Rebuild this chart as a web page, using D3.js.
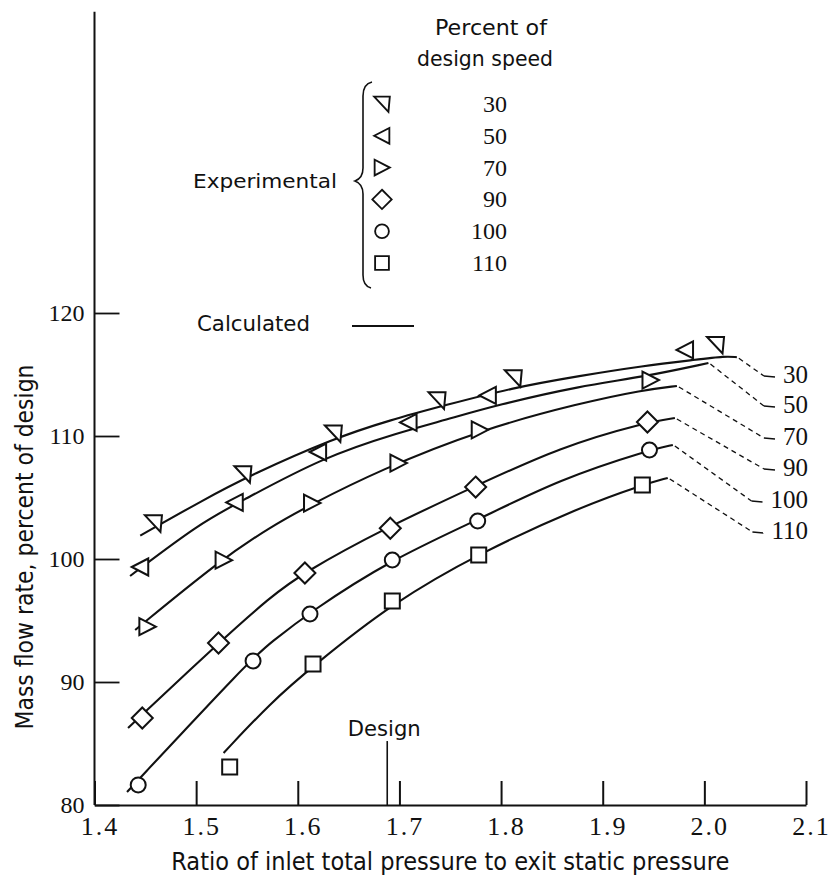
<!DOCTYPE html>
<html>
<head>
<meta charset="utf-8">
<script src="https://cdn.jsdelivr.net/npm/d3@7"></script>
<style>
  html, body { margin: 0; padding: 0; background: #fff; }
  svg { display: block; }
</style>
</head>
<body>
<svg id="chart" width="830" height="879"></svg>
<script>
// ---- Data -------------------------------------------------------------
const speeds = ["30", "50", "70", "90", "100", "110"];
const xTicks = [1.4, 1.5, 1.6, 1.7, 1.8, 1.9, 2.0, 2.1];
const yTicks = [80, 90, 100, 110, 120];

// Experimental points: [pressure ratio, mass flow rate (% of design)]
const exp30  = [[1.458, 102.9], [1.546, 106.9], [1.635, 110.2], [1.737, 112.9], [1.812, 114.7], [2.011, 117.4]];
const exp50  = [[1.445, 99.35], [1.538, 104.6], [1.620, 108.7], [1.709, 111.1], [1.787, 113.3], [1.981, 117.0]];
const exp70  = [[1.452, 94.5],  [1.527, 99.9],  [1.614, 104.55], [1.699, 107.8], [1.779, 110.5], [1.947, 114.55]];
const exp90  = [[1.447, 87.07], [1.522, 93.17], [1.607, 98.86], [1.691, 102.5], [1.775, 105.85], [1.944, 111.14]];
const exp100 = [[1.443, 81.63], [1.556, 91.71], [1.612, 95.53], [1.693, 99.92], [1.777, 103.09], [1.946, 108.86]];
const exp110 = [[1.533, 83.09], [1.615, 91.46], [1.693, 96.59], [1.778, 100.33], [1.939, 106.02]];

// Calculated characteristics
const calc30  = [[1.445, 101.9], [1.507, 104.8], [1.553, 106.8], [1.635, 109.8], [1.691, 111.3], [1.745, 112.5],
                 [1.810, 113.9], [1.878, 114.9], [1.940, 115.7], [1.991, 116.2], [2.021, 116.5], [2.032, 116.4]];
const calc50  = [[1.435, 98.62], [1.504, 102.93], [1.543, 104.63], [1.625, 108.29], [1.701, 110.32], [1.745, 111.3],
                 [1.796, 112.52], [1.878, 114.07], [1.940, 114.8], [2.004, 115.93]];
const calc70  = [[1.440, 94.23], [1.524, 99.92], [1.573, 102.6], [1.612, 104.39], [1.681, 107.24], [1.779, 110.49],
                 [1.878, 112.68], [1.940, 113.74], [1.973, 114.07]];
const calc90  = [[1.433, 86.26], [1.522, 93.17], [1.573, 96.91], [1.605, 98.86], [1.686, 102.52], [1.773, 105.85],
                 [1.858, 109.11], [1.944, 111.14], [1.971, 111.46]];
const calc100 = [[1.432, 81.06], [1.553, 91.79], [1.573, 93.17], [1.612, 95.69], [1.691, 99.92], [1.777, 103.17],
                 [1.858, 106.5], [1.946, 108.86], [1.969, 109.27]];
const calc110 = [[1.527, 84.23], [1.573, 88.29], [1.615, 91.3], [1.693, 96.42], [1.779, 100.49], [1.878, 104.23],
                 [1.939, 106.02], [1.964, 106.59]];

// Right-hand speed labels (flow-rate level of each label)
const labelLevels = [115.04, 112.6, 110.0, 107.48, 104.88, 102.36];

const designRatio = 1.688;
const designMarkTop = 85.2;
const yAxisTop = 144.5;

// ---- Setup ------------------------------------------------------------
const svg = d3.select("#chart");
svg.append("rect").attr("width", 830).attr("height", 879).attr("fill", "#fff");

const x = d3.scaleLinear().domain([1.4, 2.1]).range([94.5, 806]);
const y = d3.scaleLinear().domain([80, 120]).range([805, 313]);

const INK = "#111";
const SERIF = "'Liberation Serif','DejaVu Serif',serif";
const SANS = "'DejaVu Sans','Liberation Sans',sans-serif";
const NARROW = "'Liberation Sans Narrow','DejaVu Sans Condensed','DejaVu Sans',sans-serif";

function fitText(g, str, px, py, size, family, len, anchor) {
  return g.append("text")
    .attr("x", px).attr("y", py)
    .attr("font-family", family).attr("font-size", size)
    .attr("fill", INK)
    .attr("text-anchor", anchor || "start")
    .attr("textLength", len)
    .attr("lengthAdjust", "spacingAndGlyphs")
    .text(str);
}

// ---- Axes -------------------------------------------------------------
const gx = svg.append("g").attr("transform", `translate(0,${y(80)})`)
  .call(d3.axisBottom(x).tickValues(xTicks).tickSize(-24).tickSizeOuter(0).tickPadding(12)
        .tickFormat(d3.format(".1f")));
gx.select(".domain").attr("stroke", INK).attr("stroke-width", 2);
gx.selectAll(".tick line").attr("stroke", INK).attr("stroke-width", 2);
gx.selectAll(".tick text").attr("font-family", SERIF).attr("font-size", 26)
  .attr("letter-spacing", 2).attr("dx", 5).attr("fill", INK);

const gy = svg.append("g").attr("transform", `translate(${x(1.4)},0)`)
  .call(d3.axisLeft(y).tickValues(yTicks).tickSize(-25).tickSizeOuter(0).tickPadding(10));
gy.select(".domain").remove();
gy.selectAll(".tick line").attr("stroke", INK).attr("stroke-width", 1.8);
gy.selectAll(".tick text").attr("font-family", SERIF).attr("font-size", 24).attr("fill", INK);
gy.append("line")
  .attr("x1", 0).attr("x2", 0)
  .attr("y1", y(80)).attr("y2", y(yAxisTop))
  .attr("stroke", INK).attr("stroke-width", 2);

// Axis titles
fitText(svg, "Ratio of inlet total pressure to exit static pressure",
        (x(1.4) + x(2.1)) / 2, 870, 24, NARROW, 558, "middle");
fitText(svg.append("g").attr("transform", "translate(33,547) rotate(-90)"),
        "Mass flow rate, percent of design", 0, 0, 24, NARROW, 365, "middle");

// Design-point marker
svg.append("line")
  .attr("x1", x(designRatio)).attr("x2", x(designRatio))
  .attr("y1", y(80)).attr("y2", y(designMarkTop))
  .attr("stroke", INK).attr("stroke-width", 1.6);
fitText(svg, "Design", x(designRatio) - 3, y(designMarkTop) - 5, 22, SANS, 73, "middle");

// ---- Symbols ------------------------------------------------------------
const shapes = {
  "30":  "M-8.5,-8L8.5,-8L7,8.5Z",
  "50":  "M-8.5,0L8,-8.5L8,8.5Z",
  "70":  "M-8,-8.5L-8,8.5L8.5,0Z",
  "90":  "M0,-10.5L10.5,0L0,10.5L-10.5,0Z",
  "100": "M7.5,0A7.5,7.5 0 1,1 -7.5,0A7.5,7.5 0 1,1 7.5,0Z",
  "110": "M-7.5,-7.5L7.5,-7.5L7.5,7.5L-7.5,7.5Z"
};
function symbol(g, key, cx, cy, k) {
  g.append("path")
    .attr("d", shapes[key])
    .attr("transform", `translate(${cx},${cy}) scale(${k || 1})`)
    .attr("fill", "#fff").attr("stroke", INK).attr("stroke-width", 2)
    .attr("stroke-linejoin", "miter");
}

// ---- Curves, leaders and points --------------------------------------
const calcSets = [calc30, calc50, calc70, calc90, calc100, calc110];
const expSets = [exp30, exp50, exp70, exp90, exp100, exp110];

const line = d3.line()
  .x(d => x(d[0])).y(d => y(d[1]))
  .curve(d3.curveBasis);

const gCurves = svg.append("g");
const gLeaders = svg.append("g");
const gLabels = svg.append("g");
const gPoints = svg.append("g");

speeds.forEach((s, i) => {
  const c = calcSets[i];
  gCurves.append("path").attr("d", line(c))
    .attr("fill", "none").attr("stroke", INK).attr("stroke-width", 2.1);

  const ly = y(labelLevels[i]);
  const t = gLabels.append("text")
    .attr("x", x(2.1) + 2).attr("y", ly).attr("dy", "0.35em")
    .attr("text-anchor", "end")
    .attr("font-family", SERIF).attr("font-size", 25).attr("fill", INK)
    .text(s);
  const left = x(2.1) + 2 - t.node().getComputedTextLength();
  const tailEnd = left - 8, tailStart = tailEnd - 11;
  const end = c[c.length - 1];
  gLeaders.append("line")
    .attr("x1", x(end[0]) + 2).attr("y1", y(end[1]) + 1)
    .attr("x2", tailStart).attr("y2", ly + 2)
    .attr("stroke", INK).attr("stroke-width", 1.3).attr("stroke-dasharray", "5,4");
  gLeaders.append("line")
    .attr("x1", tailStart).attr("y1", ly + 2)
    .attr("x2", tailEnd).attr("y2", ly + 3)
    .attr("stroke", INK).attr("stroke-width", 1.4);

  expSets[i].forEach(p => symbol(gPoints, s, x(p[0]), y(p[1])));
});

// ---- Legend -------------------------------------------------------------
const gLeg = svg.append("g");
fitText(gLeg, "Percent of", 491, 35, 22, SANS, 112, "middle");
fitText(gLeg, "design speed", 485, 66, 22, SANS, 136, "middle");

speeds.forEach((s, i) => {
  const ry = 104 + i * 31.8;
  symbol(gLeg, s, 382, ry, 0.92);
  gLeg.append("text")
    .attr("x", 507).attr("y", ry).attr("dy", "0.33em")
    .attr("text-anchor", "end")
    .attr("font-family", SERIF).attr("font-size", 24).attr("fill", INK)
    .text(s);
});

// brace grouping the experimental symbols
gLeg.append("path")
  .attr("d", "M372,82Q363,84 363,96L363,168Q363,178 355,181Q363,184 363,194L363,275Q363,286 371,288")
  .attr("fill", "none").attr("stroke", INK).attr("stroke-width", 1.6);
fitText(gLeg, "Experimental", 193, 188, 20, SANS, 144, "start");

fitText(gLeg, "Calculated", 197, 331, 21, SANS, 113, "start");
gLeg.append("line")
  .attr("x1", 352).attr("x2", 414).attr("y1", 326).attr("y2", 326)
  .attr("stroke", INK).attr("stroke-width", 1.8);
</script>
</body>
</html>
